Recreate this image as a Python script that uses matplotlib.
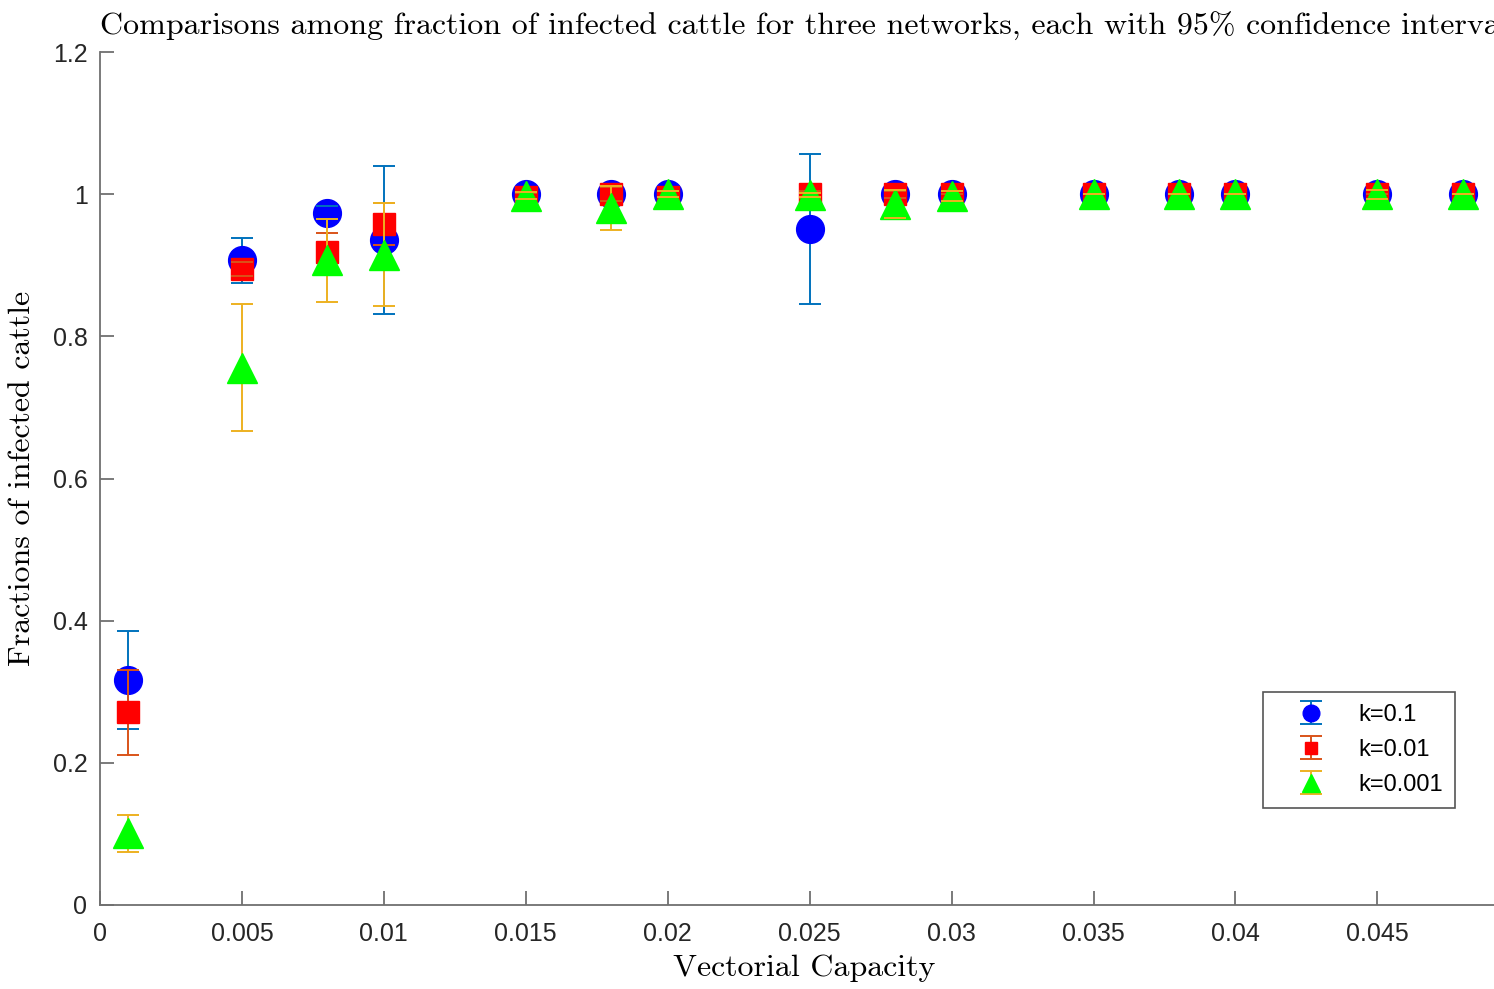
import matplotlib
matplotlib.use("Agg")
import matplotlib.pyplot as plt

# Vectorial capacity values tested
capacity = [0.001, 0.005, 0.008, 0.01, 0.015, 0.018, 0.02, 0.025,
            0.028, 0.03, 0.035, 0.038, 0.04, 0.045, 0.048]

# Mean fraction of infected cattle and 95% CI half-widths, per network
frac_k1 = [0.317, 0.907, 0.974, 0.935, 1.0, 1.0, 1.0, 0.951,
           1.0, 1.0, 1.0, 1.0, 1.0, 1.0, 1.0]
ci_k1 = [0.069, 0.032, 0.009, 0.104, 0.0, 0.0, 0.0, 0.105,
         0.0, 0.0, 0.0, 0.0, 0.0, 0.0, 0.0]

frac_k2 = [0.271, 0.895, 0.918, 0.958, 0.996, 1.0, 0.996, 1.0,
           1.0, 1.0, 1.0, 1.0, 1.0, 1.0, 1.0]
ci_k2 = [0.060, 0.010, 0.027, 0.030, 0.005, 0.010, 0.008, 0.005,
         0.005, 0.0, 0.0, 0.0, 0.0, 0.0, 0.0]

frac_k3 = [0.101, 0.756, 0.907, 0.915, 0.998, 0.980, 1.0, 0.999,
           0.986, 0.998, 1.0, 1.0, 1.0, 1.0, 1.0]
ci_k3 = [0.026, 0.089, 0.058, 0.072, 0.005, 0.031, 0.004, 0.003,
         0.020, 0.007, 0.0, 0.0, 0.0, 0.0065, 0.0]

labels = ["k=0.1", "k=0.01", "k=0.001"]
xticks = [0, 0.005, 0.01, 0.015, 0.02, 0.025, 0.03, 0.035, 0.04, 0.045]
xticklabels = ["0", "0.005", "0.01", "0.015", "0.02", "0.025", "0.03",
               "0.035", "0.04", "0.045"]
yticks = [0, 0.2, 0.4, 0.6, 0.8, 1.0, 1.2]
yticklabels = ["0", "0.2", "0.4", "0.6", "0.8", "1", "1.2"]

plt.rcParams["font.family"] = ["Liberation Sans", "DejaVu Sans"]
serif = "cmr10"

fig = plt.figure(figsize=(14.94, 9.89), dpi=100)
# axes run a little past the right edge of the figure
ax = fig.add_axes([100 / 1494, 84 / 989, 1408 / 1494, 853 / 989])

series = [
    (frac_k1, ci_k1, "o", 20, (0, 0, 1), "#0072BD"),
    (frac_k2, ci_k2, "s", 15.5, (1, 0, 0), "#D95319"),
    (frac_k3, ci_k3, "^", 22, (0, 1, 0), "#EDB120"),
]

handles = []
for i, (y, err, mk, ms, fc, ec) in enumerate(series):
    cont = ax.errorbar(capacity, y, yerr=err, fmt=mk, ms=ms,
                       mfc=fc, mec=fc, ecolor=ec, elinewidth=1.4,
                       capsize=8, capthick=1.4, label=labels[i],
                       clip_on=False)
    line, caps, bars = cont.lines
    # bars under the markers, caps on top of them
    base = 3 * i + 2
    for b in bars:
        b.set_zorder(base)
    line.set_zorder(base + 1)
    for c in caps:
        c.set_zorder(base + 2)
    handles.append(cont)

ax.set_xlim(0, 0.0496)
ax.set_ylim(0, 1.2)
ax.set_xticks(xticks)
ax.set_xticklabels(xticklabels)
ax.set_yticks(yticks)
ax.set_yticklabels(yticklabels)

axis_grey = "#707070"
for side in ["top", "right"]:
    ax.spines[side].set_visible(False)
for side in ["left", "bottom"]:
    ax.spines[side].set_color(axis_grey)
    ax.spines[side].set_linewidth(1.3)
ax.tick_params(direction="in", length=10, width=1.3, color=axis_grey,
               labelsize=18, labelcolor="#262626")
ax.tick_params(axis="x", pad=12)
ax.tick_params(axis="y", pad=9)

ax.set_title("Comparisons among fraction of infected cattle for three "
             "networks, each with 95% confidence interval",
             fontfamily=serif, fontsize=23, pad=12)
ax.set_xlabel("Vectorial Capacity", fontfamily=serif, fontsize=23,
              labelpad=6)
ax.set_ylabel("Fractions of infected cattle", fontfamily=serif,
              fontsize=23, labelpad=12)

leg = ax.legend(handles=handles, labels=labels, loc="upper left",
                bbox_to_anchor=(1263 / 1494, 1 - 692 / 989),
                bbox_transform=fig.transFigure, borderaxespad=0,
                fontsize=17, fancybox=False, framealpha=1,
                edgecolor="#555555", handlelength=3.1, handletextpad=0.45,
                borderpad=0.5, labelspacing=0.55, markerscale=0.6)
leg.get_frame().set_linewidth(1.2)

fig.savefig("out.png", dpi=100)
